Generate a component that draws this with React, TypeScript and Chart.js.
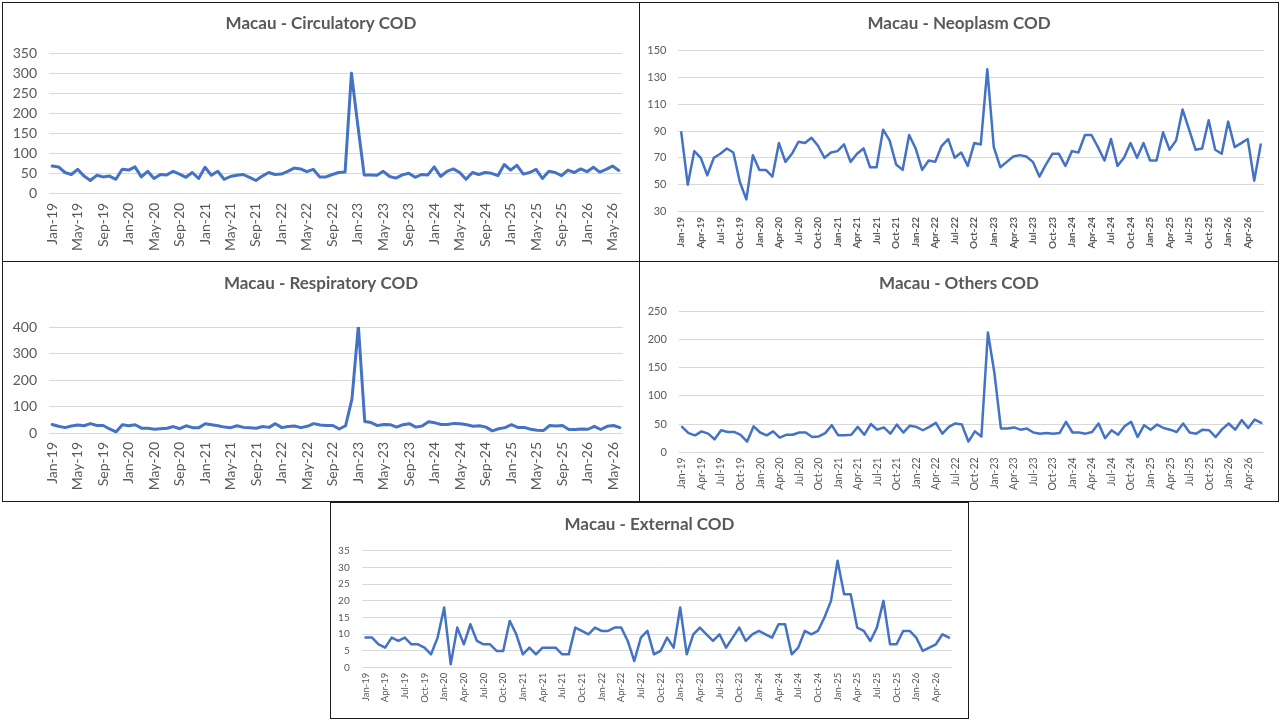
import React, { useEffect, useRef } from "react";
import { Chart, registerables } from "chart.js";

Chart.register(...registerables);

const MONTHS = ["Jan", "Feb", "Mar", "Apr", "May", "Jun", "Jul", "Aug", "Sep", "Oct", "Nov", "Dec"];
const YEARS = ["19", "20", "21", "22", "23", "24", "25", "26"];
const monthLabels: string[] = YEARS.flatMap((y) => MONTHS.map((m) => `${m}-${y}`)).slice(0, 90);

const circulatory = [
  68, 66, 52, 47, 60, 43, 32, 45, 41, 43,
  35, 60, 58, 66, 41, 55, 37, 47, 46, 55,
  48, 40, 52, 37, 65, 45, 55, 35, 42, 45,
  47, 40, 32, 43, 52, 47, 48, 55, 63, 61,
  54, 60, 41, 41, 47, 52, 53, 300, 170, 46,
  46, 45, 55, 42, 38, 46, 50, 40, 47, 46,
  66, 42, 55, 61, 52, 35, 52, 47, 52, 50,
  44, 72, 58, 70, 48, 52, 60, 37, 55, 52,
  44, 58, 52, 61, 54, 65, 53, 60, 68, 57,
];

const neoplasm = [
  89, 50, 75, 70, 57, 70, 73, 77, 74, 52,
  39, 72, 61, 61, 56, 81, 67, 73, 82, 81,
  85, 79, 70, 74, 75, 80, 67, 73, 77, 63,
  63, 91, 83, 65, 61, 87, 77, 61, 68, 67,
  79, 84, 70, 74, 64, 81, 80, 136, 78, 63,
  67, 71, 72, 71, 67, 56, 65, 73, 73, 64,
  75, 74, 87, 87, 78, 68, 84, 64, 70, 81,
  70, 81, 68, 68, 89, 76, 83, 106, 91, 76,
  77, 98, 76, 73, 97, 78, 81, 84, 53, 80,
];

const respiratory = [
  34, 27, 22, 28, 32, 29, 37, 30, 30, 17,
  6, 33, 29, 33, 20, 20, 16, 18, 20, 26,
  18, 29, 22, 22, 37, 33, 29, 24, 22, 29,
  23, 22, 20, 26, 23, 37, 22, 26, 28, 22,
  27, 37, 32, 30, 30, 17, 29, 130, 405, 45,
  41, 30, 34, 33, 24, 33, 37, 24, 28, 44,
  40, 34, 34, 38, 37, 33, 27, 29, 24, 10,
  18, 22, 33, 23, 23, 16, 12, 11, 30, 28,
  30, 15, 15, 17, 16, 27, 15, 27, 30, 22,
];

const others = [
  45, 34, 30, 37, 33, 23, 39, 36, 36, 31,
  19, 46, 35, 30, 37, 26, 31, 31, 35, 35,
  27, 28, 34, 48, 30, 30, 31, 45, 31, 50,
  40, 44, 33, 49, 35, 47, 45, 39, 45, 52,
  33, 45, 51, 49, 19, 37, 28, 212, 140, 42,
  42, 44, 40, 42, 35, 33, 34, 33, 34, 54,
  35, 35, 33, 36, 51, 25, 39, 31, 46, 54,
  27, 48, 40, 49, 43, 40, 36, 51, 35, 33,
  40, 39, 27, 41, 51, 40, 57, 43, 58, 52,
];

const external = [
  9, 9, 7, 6, 9, 8, 9, 7, 7, 6,
  4, 9, 18, 1, 12, 7, 13, 8, 7, 7,
  5, 5, 14, 10, 4, 6, 4, 6, 6, 6,
  4, 4, 12, 11, 10, 12, 11, 11, 12, 12,
  8, 2, 9, 11, 4, 5, 9, 6, 18, 4,
  10, 12, 10, 8, 10, 6, 9, 12, 8, 10,
  11, 10, 9, 13, 13, 4, 6, 11, 10, 11,
  15, 20, 32, 22, 22, 12, 11, 8, 12, 20,
  7, 7, 11, 11, 9, 5, 6, 7, 10, 9,
];

const FONT = "Lato, 'Liberation Sans', sans-serif";
const TEXT = "#595959";
const LINE = "#4472C4";
const GRID = "#D9D9D9";

type Panel = {
  title: string;
  values: number[];
  box: { left: number; top: number; width: number; height: number };
  area: { left: number; right: number; top: number; bottom: number };
  yMin: number;
  yMax: number;
  yStep: number;
  labelEvery: number;
  yFont: number;
  xFont: number;
  xBold: boolean;
  titleY: number;
  titleSize: number;
  yPad: number;
  xPad: number;
  lineWidth: number;
};

const panels: Panel[] = [
  {
    title: "Macau - Circulatory COD",
    values: circulatory,
    box: { left: 2, top: 2, width: 638, height: 260 },
    area: { left: 46, right: 623.5, top: 50.3, bottom: 190.3 },
    yMin: 0, yMax: 350, yStep: 50, labelEvery: 4,
    yFont: 14, xFont: 14, xBold: false, titleY: 21, titleSize: 17,
    yPad: 12, xPad: 9.5, lineWidth: 3,
  },
  {
    title: "Macau - Neoplasm COD",
    values: neoplasm,
    box: { left: 639, top: 2, width: 640, height: 260 },
    area: { left: 38, right: 624, top: 47.5, bottom: 208.5 },
    yMin: 30, yMax: 150, yStep: 20, labelEvery: 3,
    yFont: 11, xFont: 10, xBold: true, titleY: 21, titleSize: 17,
    yPad: 11.5, xPad: 5.5, lineWidth: 2.5,
  },
  {
    title: "Macau - Respiratory COD",
    values: respiratory,
    box: { left: 2, top: 261, width: 638, height: 241 },
    area: { left: 46, right: 623.5, top: 65, bottom: 171.5 },
    yMin: 0, yMax: 400, yStep: 100, labelEvery: 4,
    yFont: 14, xFont: 14, xBold: false, titleY: 22, titleSize: 17,
    yPad: 12, xPad: 8.5, lineWidth: 3,
  },
  {
    title: "Macau - Others COD",
    values: others,
    box: { left: 639, top: 261, width: 640, height: 241 },
    area: { left: 38.8, right: 624.5, top: 49, bottom: 190.3 },
    yMin: 0, yMax: 250, yStep: 50, labelEvery: 3,
    yFont: 11, xFont: 10.5, xBold: false, titleY: 22, titleSize: 17,
    yPad: 12, xPad: 5, lineWidth: 2.5,
  },
  {
    title: "Macau - External COD",
    values: external,
    box: { left: 330, top: 502, width: 639, height: 217 },
    area: { left: 31.2, right: 621.3, top: 47.7, bottom: 164.7 },
    yMin: 0, yMax: 35, yStep: 5, labelEvery: 3,
    yFont: 10, xFont: 9.5, xBold: false, titleY: 21.7, titleSize: 17,
    yPad: 12.5, xPad: 5, lineWidth: 2.5,
  },
];

function ChartPanel({ p }: { p: Panel }) {
  const ref = useRef<HTMLCanvasElement | null>(null);
  const W = p.box.width - 2;
  const H = p.box.height - 2;

  useEffect(() => {
    if (!ref.current) return;
    const R = W - p.area.right;
    const lh = p.titleSize * 1.2;
    const chart = new Chart(ref.current, {
      type: "line",
      data: {
        labels: monthLabels,
        datasets: [
          {
            data: p.values,
            yAxisID: "y",
            borderColor: LINE,
            backgroundColor: LINE,
            borderWidth: p.lineWidth,
            pointRadius: 0,
            tension: 0,
            fill: false,
            borderJoinStyle: "round",
            borderCapStyle: "round",
          },
        ],
      },
      options: {
        animation: false,
        responsive: false,
        maintainAspectRatio: false,
        layout: { padding: 0 },
        plugins: {
          legend: { display: false },
          tooltip: { enabled: false },
          title: {
            display: true,
            text: p.title,
            color: TEXT,
            font: { family: FONT, size: p.titleSize, weight: "bold" },
            padding: { top: p.titleY - lh / 2, bottom: p.area.top - p.titleY - lh / 2 },
          },
        },
        scales: {
          x: {
            type: "category",
            offset: true,
            grid: { display: false, drawTicks: false },
            border: { display: false },
            ticks: {
              autoSkip: false,
              maxRotation: 90,
              minRotation: 90,
              padding: p.xPad,
              color: TEXT,
              font: { family: FONT, size: p.xFont, weight: p.xBold ? "bold" : "normal" },
              callback: (_v: any, i: number) => (i % p.labelEvery === 0 ? monthLabels[i] : null),
            },
            afterFit: (s: any) => {
              s.height = H - p.area.bottom;
            },
          },
          y: {
            position: "left",
            min: p.yMin,
            max: p.yMax,
            grid: { color: GRID, drawTicks: false, lineWidth: 1 },
            border: { display: false },
            ticks: {
              stepSize: p.yStep,
              padding: p.yPad,
              color: TEXT,
              font: { family: FONT, size: p.yFont },
            },
            afterFit: (s: any) => {
              s.width = p.area.left;
            },
          },
          spacer: {
            type: "linear",
            position: "right",
            display: true,
            grid: { display: false, drawTicks: false },
            border: { display: false },
            ticks: { display: false },
            afterFit: (s: any) => {
              s.width = R;
            },
          },
        },
      },
    } as any);
    return () => chart.destroy();
  }, []);

  return (
    <div
      style={{
        position: "absolute",
        left: p.box.left,
        top: p.box.top,
        width: p.box.width,
        height: p.box.height,
        boxSizing: "border-box",
        border: "1px solid #1a1a1a",
        background: "#fff",
      }}
    >
      <canvas ref={ref} width={W} height={H} style={{ display: "block", width: W, height: H }} />
    </div>
  );
}

export default function App() {
  return (
    <div style={{ position: "absolute", left: 0, top: 0, width: 1280, height: 720, background: "#fff", overflow: "hidden" }}>
      {panels.map((p) => (
        <ChartPanel key={p.title} p={p} />
      ))}
    </div>
  );
}
